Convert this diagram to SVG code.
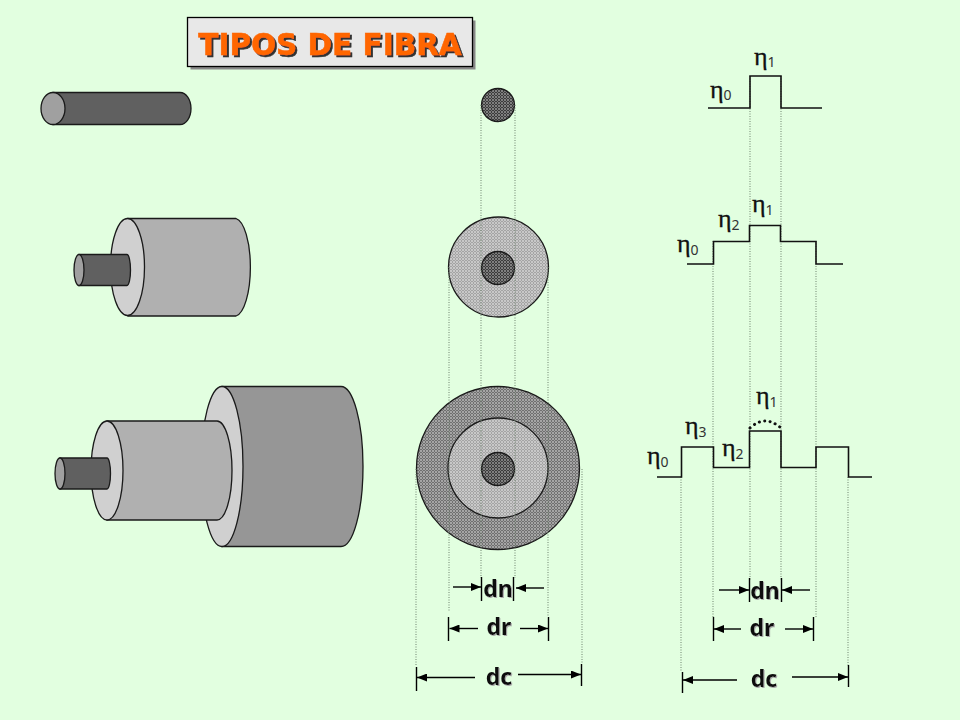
<svg xmlns="http://www.w3.org/2000/svg" width="960" height="720" viewBox="0 0 960 720">
<style>
.o{stroke:#1a1a1a;stroke-width:1.3}
.p{fill:none;stroke:#111;stroke-width:1.6}
.g{fill:none;stroke:#6f836f;stroke-width:1;stroke-dasharray:1 1.5}
.d{stroke:#000;stroke-width:1.4;fill:none}
.a{marker-end:url(#ah)}
.l{font-family:"Noto Sans",sans-serif;font-weight:bold;font-size:23px;fill:#111;text-anchor:middle;filter:url(#ls)}
.e{font-family:"Liberation Serif",serif;font-size:26px;fill:#111;stroke:#111;stroke-width:.3}
.s{font-family:"Noto Sans",sans-serif;font-size:14px;fill:#333;stroke:none}
</style>
<defs>
<marker id="ah" markerWidth="11" markerHeight="8" refX="10" refY="4" orient="auto" markerUnits="userSpaceOnUse"><path d="M0 0L10 4L0 8Z" fill="#000"/></marker>
<pattern id="pd" width="3" height="3" patternUnits="userSpaceOnUse"><rect width="3" height="3" fill="#707070"/><circle cx="1" cy="1" r=".75" fill="#f4f4f4"/><circle cx="2.500" cy="2.500" r=".45" fill="#d8d8d8"/></pattern>
<pattern id="pl" width="3" height="3" patternUnits="userSpaceOnUse"><rect width="3" height="3" fill="#a4a4a4"/><circle cx="1" cy="1" r=".75" fill="#fff"/><circle cx="2.500" cy="2.500" r=".45" fill="#eee"/></pattern>
<pattern id="pc" width="3" height="3" patternUnits="userSpaceOnUse"><rect width="3" height="3" fill="#3c3c3c"/><circle cx="1" cy="1" r=".75" fill="#e4e4e4"/><circle cx="2.500" cy="2.500" r=".45" fill="#bbb"/></pattern>
<filter id="ts" x="-5%" y="-10%" width="110%" height="130%"><feDropShadow dx="2" dy="2" stdDeviation=".5" flood-color="#333"/></filter>
<filter id="ls" x="-10%" y="-10%" width="120%" height="130%"><feDropShadow dx="1" dy="1" stdDeviation=".4" flood-color="#aaa"/></filter>
</defs>
<rect width="960" height="720" fill="#e2ffe0"/>

<g id="title">
<rect x="190.500" y="20.500" width="285" height="49" fill="#888"/>
<rect x="187.500" y="17.500" width="285" height="49" fill="#e8e8e8" stroke="#000" stroke-width="1.300"/>
<text x="330" y="54.500" font-family="'DejaVu Sans',sans-serif" font-weight="bold" font-size="29.500" fill="#ff6600" stroke="#ff6600" stroke-width=".5" text-anchor="middle" filter="url(#ts)">TIPOS DE FIBRA</text>
</g>

<g id="cable-1">
<path class="o" d="M53 92.500H180A11 16 0 0 1 180 124.500H53Z" fill="#606060"/>
<ellipse class="o" cx="53" cy="108.500" rx="12" ry="16" fill="#a0a0a0"/>
</g>

<g id="cable-2">
<path class="o" d="M128 218.500H236A16 49 0 0 1 236 316H128Z" fill="#b0b0b0"/>
<ellipse class="o" cx="127.500" cy="267" rx="17" ry="48.500" fill="#d0d0d0"/>
<path class="o" d="M79 254.500H127A3.500 15.500 0 0 1 127 285.500H79Z" fill="#606060"/>
<ellipse class="o" cx="79" cy="270" rx="5" ry="15.500" fill="#a0a0a0"/>
</g>

<g id="cable-3">
<path class="o" d="M222 386.500H341A22 80 0 0 1 341 546.500H222Z" fill="#969696"/>
<ellipse class="o" cx="222" cy="466.500" rx="21" ry="80" fill="#d0d0d0"/>
<path class="o" d="M107 421H217A15 49.500 0 0 1 217 520H107Z" fill="#b0b0b0"/>
<ellipse class="o" cx="107" cy="470.500" rx="16" ry="49.500" fill="#d0d0d0"/>
<path class="o" d="M60 458H107A3.500 15.500 0 0 1 107 489H60Z" fill="#606060"/>
<ellipse class="o" cx="60" cy="473.500" rx="5" ry="15.500" fill="#a0a0a0"/>
</g>

<g id="section-1">
<circle class="o" cx="498" cy="105" r="16.500" fill="url(#pc)"/>
</g>
<g id="section-2">
<circle class="o" cx="498.500" cy="267" r="50" fill="url(#pl)"/>
<circle class="o" cx="498" cy="268" r="16.500" fill="url(#pc)"/>
</g>
<g id="section-3">
<circle class="o" cx="498" cy="468" r="81.500" fill="url(#pd)"/>
<circle class="o" cx="498" cy="468" r="50" fill="url(#pl)"/>
<circle class="o" cx="498" cy="469" r="16.500" fill="url(#pc)"/>
</g>

<g id="connectors">
<path class="g" d="M481 105V578M515 105V578M449 267V612M548 267V616M416 469V666M582 469V664"/>
<path class="g" d="M750 76V580M781 76V580M713 241V618M816 241V618M681 477V672M848 477V666"/>
<path class="d" d="M481.500 577V601M513.500 577V601M448.500 617V641M548.500 617V641M416.500 667V691M581.500 664V686"/>
<path class="d a" d="M453 587H481"/><path class="d a" d="M544 588H516"/>
<path class="d a" d="M478 628.500H449.500"/><path class="d a" d="M520 628.500H548"/>
<path class="d a" d="M475 677.500H417"/><path class="d a" d="M518 674.500H581"/>
<path class="d" d="M749.500 578V602M781.500 578V602M713.500 617V641M813.500 617V641M682.500 672V693M848.500 665V687"/>
<path class="d a" d="M719 590H749"/><path class="d a" d="M810 590H782"/>
<path class="d a" d="M741 629H714"/><path class="d a" d="M785 629H813"/>
<path class="d a" d="M737 680H683"/><path class="d a" d="M792 677H848"/>
</g>

<g id="profile-1">
<path class="p" d="M708 108H750V76H781V108H822"/>
<text class="e" x="754" y="65">η<tspan class="s" dy="2">1</tspan></text>
<text class="e" x="710" y="98">η<tspan class="s" dy="2">0</tspan></text>
</g>
<g id="profile-2">
<path class="p" d="M687 264H713.500V241.500H749.500V225.500H780.500V241.500H816V264H843"/>
<text class="e" x="752" y="212">η<tspan class="s" dy="3">1</tspan></text>
<text class="e" x="718" y="227">η<tspan class="s" dy="3">2</tspan></text>
<text class="e" x="677" y="252">η<tspan class="s" dy="3">0</tspan></text>
</g>
<g id="profile-3">
<path class="p" d="M657 477H681.500V447H713.500V467.500H749.500V431H781V467.500H816V447H848.500V477H872"/>
<path d="M750 428Q765 414 781 428" fill="none" stroke="#111" stroke-width="3" stroke-linecap="round" stroke-dasharray=".1 5.400"/>
<text class="e" x="756" y="404">η<tspan class="s" dy="3">1</tspan></text>
<text class="e" x="685" y="434">η<tspan class="s" dy="3">3</tspan></text>
<text class="e" x="722" y="456">η<tspan class="s" dy="3">2</tspan></text>
<text class="e" x="647" y="464">η<tspan class="s" dy="3">0</tspan></text>
</g>

<g id="labels">
<text class="l" x="498" y="597">dn</text>
<text class="l" x="499" y="635">dr</text>
<text class="l" x="499" y="685">dc</text>
<text class="l" x="765" y="599">dn</text>
<text class="l" x="762" y="636">dr</text>
<text class="l" x="764" y="687">dc</text>
</g>
</svg>
